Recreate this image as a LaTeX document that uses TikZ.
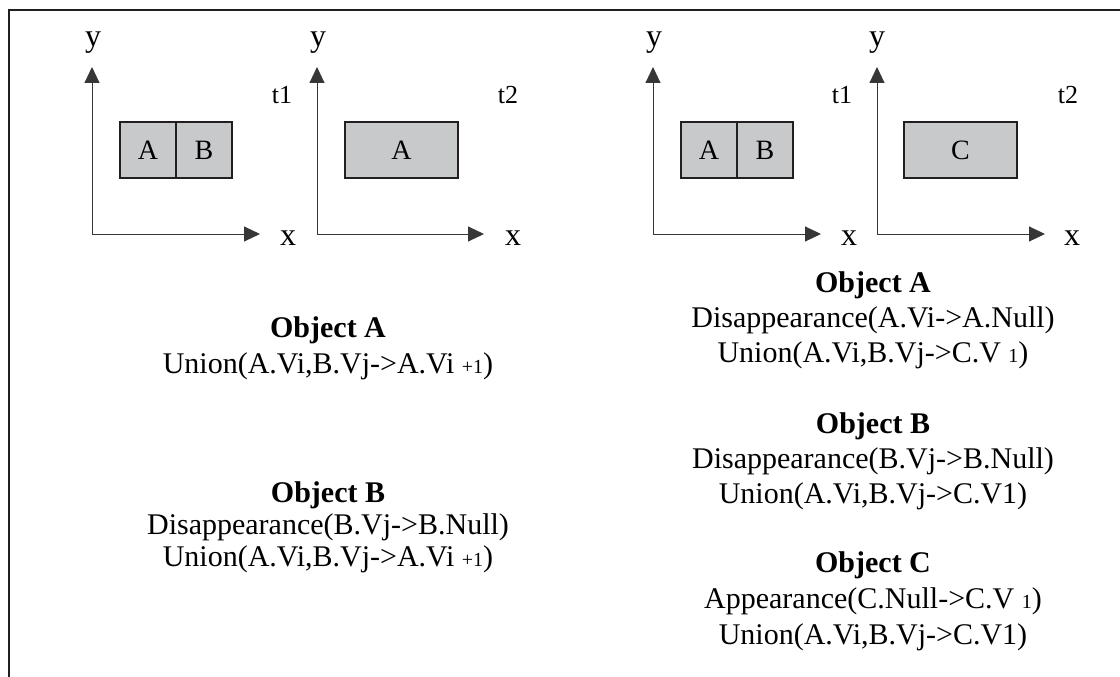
\documentclass[tikz,border=0pt]{standalone}
\usepackage{fontspec}
\setmainfont{Liberation Serif}
\usetikzlibrary{arrows.meta,positioning}
\definecolor{framegray}{RGB}{35,31,32}
\definecolor{axisgray}{RGB}{55,55,55}
\definecolor{cellfill}{RGB}{200,201,203}
\newcommand{\smallidx}[1]{{\fontsize{20}{20}\selectfont #1}}

\begin{document}
\begin{tikzpicture}[
    x=1pt, y=-1pt,
    axis/.style={{Triangle[length=16pt,width=15pt]}-{Triangle[length=16pt,width=15pt]}, line width=1pt, axisgray},
    cell/.style={rectangle, draw=framegray, line width=1.8pt, fill=cellfill, outer sep=0pt, inner sep=0pt,
                 minimum width=56pt, minimum height=56pt, font=\fontsize{28}{28}\selectfont},
    axlabel/.style={anchor=base, inner sep=0pt, font=\fontsize{32}{32}\selectfont},
    tlabel/.style={anchor=base, inner sep=0pt, font=\fontsize{26}{26}\selectfont},
    title/.style={anchor=base, inner sep=0pt, text height=21pt, text depth=7pt, font=\bfseries\fontsize{30}{30}\selectfont},
    rule/.style={inner sep=0pt, text height=21pt, text depth=7pt, font=\fontsize{30}{30}\selectfont}
]
\useasboundingbox (0,0) rectangle (1120,677);
\draw[framegray, line width=2.5pt] (9,677) -- (9,10) -- (1120,10);

% union: A and B merge into A
\coordinate (o1) at (92,234);   \coordinate (ya1) at (92,67);   \coordinate (xa1) at (260,234);
\draw[axis] (ya1) -- (o1) -- (xa1);
\node[axlabel] (ylab1) at (93,47) {y};
\node[axlabel] (xlab1) at (288,245) {x};
\node[tlabel] (tlab1) at (282,103) {t1};
\node[cell] (a1) at (148,150) {A};
\node[cell, right=0pt of a1] (b1) {B};

\coordinate (o2) at (317,234);  \coordinate (ya2) at (317,67);  \coordinate (xa2) at (484,234);
\draw[axis] (ya2) -- (o2) -- (xa2);
\node[axlabel] (ylab2) at (318,47) {y};
\node[axlabel] (xlab2) at (513,245) {x};
\node[tlabel] (tlab2) at (508,103) {t2};
\node[cell, minimum width=113pt] (a2) at (401.5,150) {A};

% union: A and B merge into a new C
\coordinate (o3) at (653,234);  \coordinate (ya3) at (653,67);  \coordinate (xa3) at (821,234);
\draw[axis] (ya3) -- (o3) -- (xa3);
\node[axlabel] (ylab3) at (654,47) {y};
\node[axlabel] (xlab3) at (849,245) {x};
\node[tlabel] (tlab3) at (842,103) {t1};
\node[cell] (a3) at (709,150) {A};
\node[cell, right=0pt of a3] (b3) {B};

\coordinate (o4) at (877,234);  \coordinate (ya4) at (877,67);  \coordinate (xa4) at (1045,234);
\draw[axis] (ya4) -- (o4) -- (xa4);
\node[axlabel] (ylab4) at (877,47) {y};
\node[axlabel] (xlab4) at (1072,245) {x};
\node[tlabel] (tlab4) at (1068,103) {t2};
\node[cell, minimum width=113pt] (c4) at (960.5,150) {C};

% changes per object, left case
\node[title] (lobjA) at (328,337) {Object A};
\node[rule, below=8pt of lobjA] (lobjA1) {Union(A.Vi,B.Vj->A.Vi \smallidx{+1})};

\node[title] (lobjB) at (328,502) {Object B};
\node[rule, below=4pt of lobjB] (lobjB1) {Disappearance(B.Vj->B.Null)};
\node[rule, below=4pt of lobjB1] (lobjB2) {Union(A.Vi,B.Vj->A.Vi \smallidx{+1})};

% changes per object, right case
\node[title] (robjA) at (873,292) {Object A};
\node[rule, below=7pt of robjA] (robjA1) {Disappearance(A.Vi->A.Null)};
\node[rule, below=7pt of robjA1] (robjA2) {Union(A.Vi,B.Vj->C.V \smallidx{1})};

\node[title] (robjB) at (873,433) {Object B};
\node[rule, below=7pt of robjB] (robjB1) {Disappearance(B.Vj->B.Null)};
\node[rule, below=7pt of robjB1] (robjB2) {Union(A.Vi,B.Vj->C.V1)};

\node[title] (robjC) at (873,572) {Object C};
\node[rule, below=8pt of robjC] (robjC1) {Appearance(C.Null->C.V \smallidx{1})};
\node[rule, below=8pt of robjC1] (robjC2) {Union(A.Vi,B.Vj->C.V1)};
\end{tikzpicture}
\end{document}
